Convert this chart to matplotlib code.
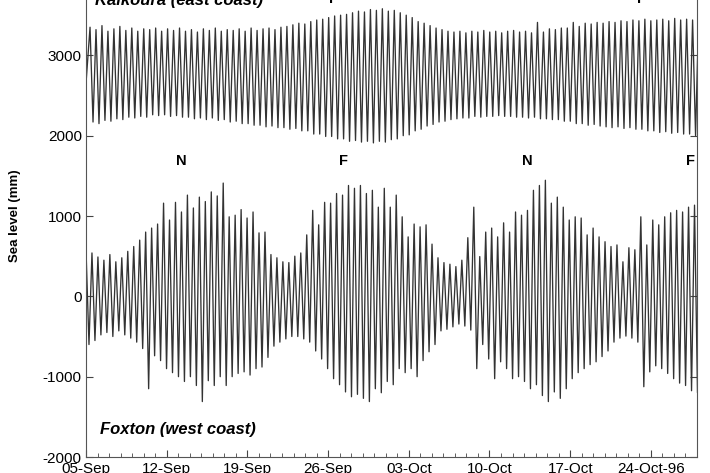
import numpy as np
import matplotlib
matplotlib.use("Agg")
import matplotlib.pyplot as plt
import matplotlib.dates as mdates
from datetime import datetime

# tide record start and the spacing of one tidal cycle (days)
start = datetime(1996, 9, 5)
n_days = 53
cycle_days = 12.42 / 24.0

# high and low water for each tidal cycle (mm)
kaik_high = [3350, 3320, 3370, 3300, 3330, 3360, 3310, 3340, 3300, 3330,
             3320, 3340, 3300, 3330, 3310, 3340, 3300, 3320, 3290, 3330,
             3310, 3340, 3300, 3320, 3310, 3330, 3300, 3340, 3310, 3330,
             3340, 3320, 3350, 3360, 3380, 3400, 3390, 3420, 3440, 3450,
             3470, 3490, 3500, 3510, 3530, 3550, 3540, 3570, 3560, 3580,
             3550, 3560, 3530, 3500, 3470, 3420, 3400, 3370, 3340, 3320,
             3300, 3290, 3300, 3280, 3300, 3290, 3310, 3290, 3300, 3280,
             3300, 3310, 3290, 3300, 3280, 3410, 3290, 3330, 3320, 3340,
             3340, 3410, 3360, 3400, 3390, 3410, 3400, 3420, 3410, 3430,
             3420, 3440, 3430, 3450, 3430, 3440, 3450, 3430, 3460, 3440,
             3450, 3440, 3460, 3430]
kaik_low = [2170, 2150, 2190, 2180, 2210, 2200, 2230, 2220, 2240, 2230,
            2260, 2250, 2260, 2240, 2250, 2230, 2230, 2210, 2220, 2200,
            2220, 2190, 2200, 2170, 2180, 2150, 2150, 2130, 2130, 2110,
            2120, 2100, 2100, 2080, 2090, 2060, 2060, 2020, 2020, 1990,
            1990, 1960, 1960, 1930, 1940, 1920, 1930, 1910, 1930, 1920,
            1950, 1960, 2000, 2010, 2060, 2080, 2120, 2140, 2170, 2180,
            2200, 2210, 2220, 2220, 2240, 2230, 2240, 2240, 2250, 2240,
            2240, 2230, 2230, 2220, 2230, 2210, 2210, 2200, 2200, 2180,
            2180, 2150, 2150, 2130, 2140, 2120, 2110, 2100, 2110, 2090,
            2100, 2080, 2080, 2060, 2060, 2040, 2050, 2030, 2040, 2020,
            2020, 2000, 2010, 1990]

fox_high = [580, 540, 490, 450, 520, 430, 480, 560, 620, 700,
            800, 850, 900, 1160, 950, 1170, 1050, 1260, 1100, 1235,
            1180, 1300, 1250, 1410, 990, 1010, 1080, 975, 1050, 790,
            800, 520, 480, 430, 420, 500, 540, 765, 1070, 890,
            1170, 1160, 1280, 1260, 1380, 1345, 1380, 1280, 1320, 1110,
            1345, 1110, 1260, 990, 740, 900, 865, 890, 650, 480,
            420, 400, 370, 450, 730, 1110, 495, 800, 850, 740,
            915, 800, 1050, 1010, 1070, 1320, 1380, 1445, 1160, 1235,
            1110, 950, 990, 975, 765, 850, 740, 680, 620, 640,
            430, 605, 580, 990, 640, 950, 890, 990, 1040, 1070,
            1050, 1110, 1135, 1160]
fox_low = [-600, -550, -480, -450, -500, -430, -480, -520, -570, -650,
           -1150, -740, -800, -900, -950, -1000, -1060, -1000, -1110, -1310,
           -1050, -1110, -1000, -1110, -1000, -960, -940, -980, -900, -880,
           -760, -620, -570, -530, -500, -500, -530, -570, -680, -780,
           -900, -1025, -1100, -1190, -1250, -1220, -1270, -1310, -1150, -1200,
           -1060, -1100, -900, -950, -900, -1000, -800, -690, -600, -430,
           -410, -380, -345, -370, -420, -900, -600, -780, -1025, -815,
           -900, -1025, -1000, -1060, -1150, -1100, -1235, -1310, -1190, -1270,
           -1150, -1025, -950, -900, -850, -815, -750, -680, -570, -520,
           -495, -520, -570, -1125, -940, -865, -900, -960, -1025, -1080,
           -1110, -1175, -1200, -1235]

# moon phase markers (day offset, letter)
fox_marks = [(8.3, "N"), (22.3, "F"), (38.3, "N"), (52.4, "F")]
kaik_marks = [(21.5, "P"), (48.2, "P")]

tick_labels = ["05-Sep", "12-Sep", "19-Sep", "26-Sep",
               "03-Oct", "10-Oct", "17-Oct", "24-Oct-96"]


def zigzag(high, low, first_high):
    """ puts high and low water in time order, low water half a cycle after high"""
    k = np.arange(len(high))
    t = np.empty(2 * len(high))
    v = np.empty(2 * len(high))
    t[0::2] = first_high + k * cycle_days
    t[1::2] = first_high + (k + 0.5) * cycle_days
    v[0::2] = high
    v[1::2] = low
    return mdates.date2num(start) + t, v


t0 = mdates.date2num(start)
tk, vk = zigzag(kaik_high, kaik_low, 0.35)
tf, vf = zigzag(fox_high, fox_low, 0.0)

plt.rcParams['font.family'] = ['Liberation Sans', 'DejaVu Sans']
plt.rcParams['axes.unicode_minus'] = False

fig = plt.figure(figsize=(7.1, 4.73), dpi=100)
ax = fig.add_axes([86 / 710, 16 / 473, 611 / 710, 482 / 473])

ax.plot(np.r_[t0, tk], np.r_[2650, vk], color="#333333", lw=0.95)
ax.plot(tf, vf, color="#333333", lw=0.95)

ax.set_xlim(t0, t0 + n_days)
ax.set_ylim(-2000, 4000)

ax.set_xticks(t0 + np.arange(0, 50, 7))
ax.set_xticklabels(tick_labels)
ax.set_xticks(t0 + np.arange(0, n_days + 1), minor=True)
ax.set_yticks([-2000, -1000, 0, 1000, 2000, 3000])

ax.tick_params(axis="both", which="both", direction="in", labelsize=11,
               color="#444444")
ax.tick_params(axis="x", which="major", length=5, pad=3.5)
ax.tick_params(axis="x", which="minor", length=3)
ax.tick_params(axis="y", length=5, right=True, pad=3)

for side in ["left", "right", "bottom"]:
    ax.spines[side].set_color("#555555")
ax.spines["top"].set_visible(False)

ax.set_ylabel("Sea level (mm)", fontsize=9.5, fontweight="bold", labelpad=16)

ax.text(t0 + 0.8, 3630, "Kaikoura (east coast)", fontsize=12,
        fontweight="bold", fontstyle="italic", va="baseline")
ax.text(t0 + 1.2, -1710, "Foxton (west coast)", fontsize=12,
        fontweight="bold", fontstyle="italic", va="baseline")

for d, s in fox_marks:
    ax.text(t0 + d, 1640, s, fontsize=10.5, fontweight="bold",
            ha="center", va="baseline")
for d, s in kaik_marks:
    ax.text(t0 + d, 3650, s, fontsize=10.5, fontweight="bold",
            ha="center", va="baseline")

fig.savefig("out.png", dpi=100)
